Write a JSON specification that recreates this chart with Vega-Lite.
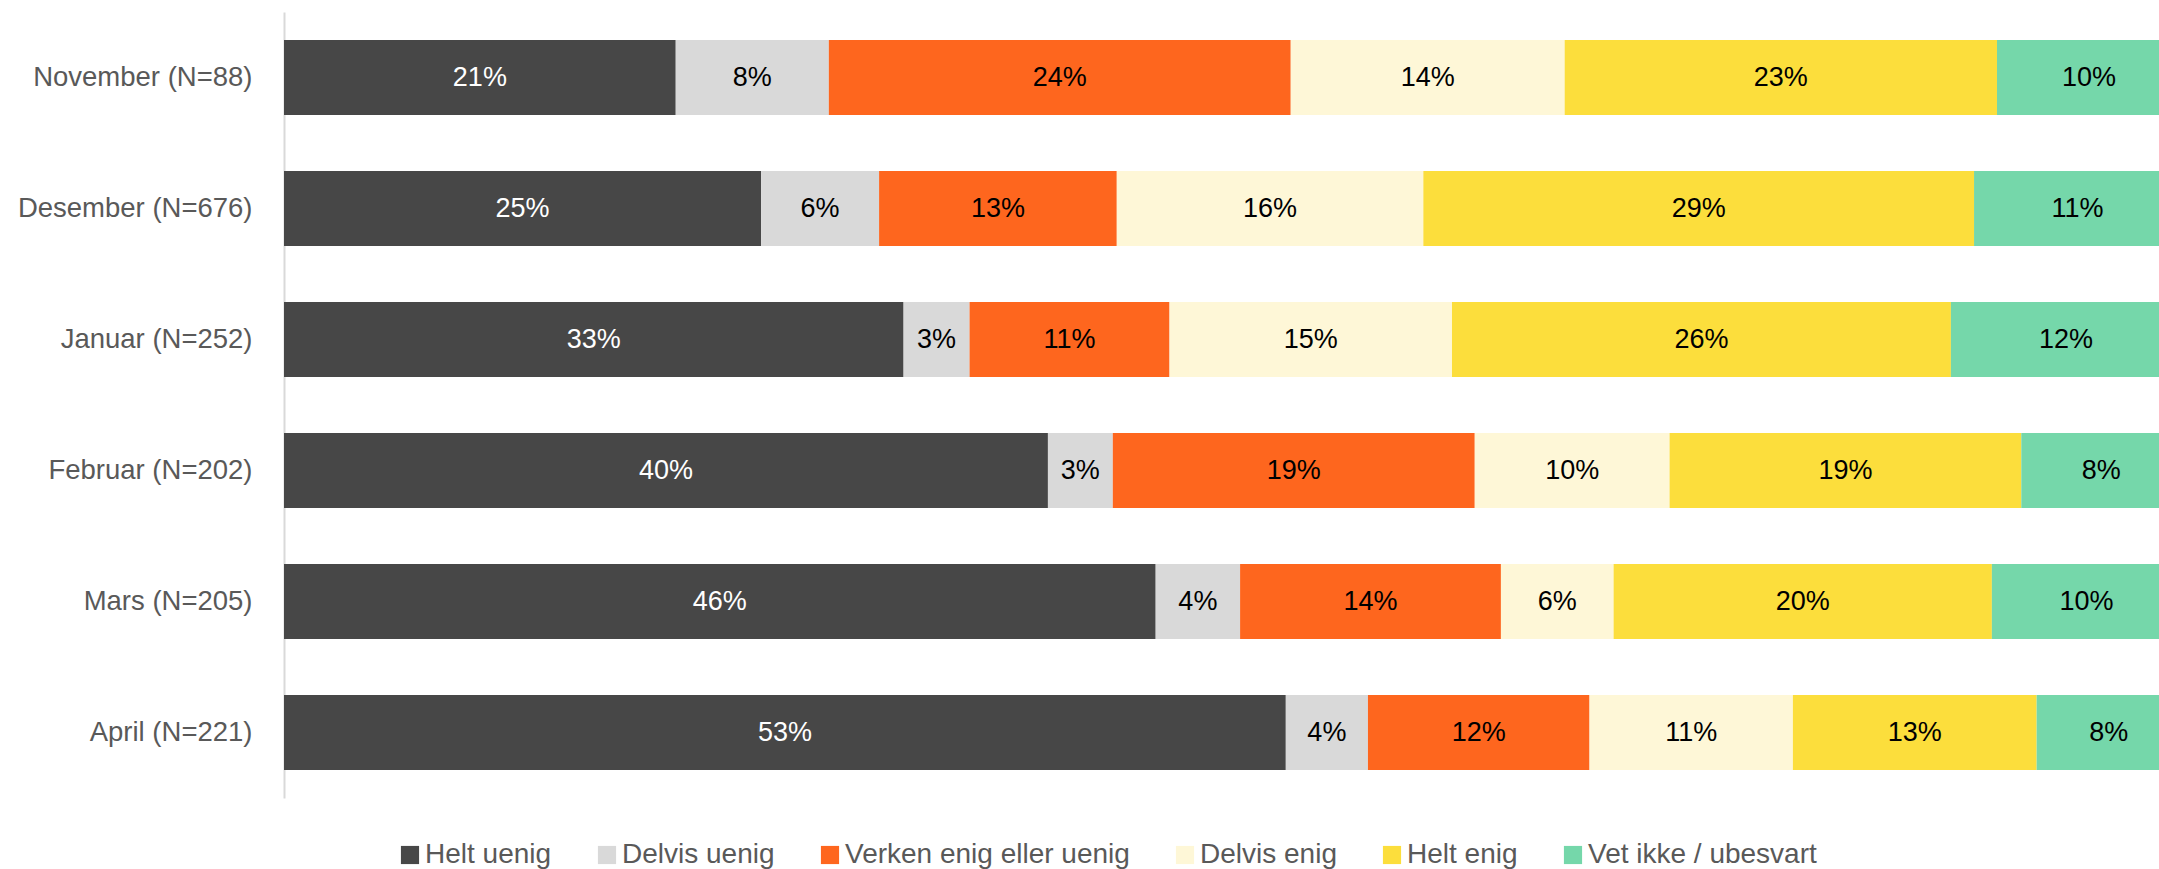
{
  "$schema": "https://vega.github.io/schema/vega-lite/v6.json",
  "width": 1875,
  "height": 786,
  "autosize": "none",
  "padding": {"left": 284, "top": 12, "right": 0, "bottom": 71},
  "background": "white",
  "config": {
    "view": {"stroke": null},
    "font": "Liberation Sans",
    "legend": {
      "orient": "none",
      "legendX": 112,
      "legendY": 829,
      "direction": "horizontal",
      "symbolType": "square",
      "symbolSize": 330,
      "symbolStrokeWidth": 0,
      "labelFontSize": 28,
      "labelColor": "#595959",
      "labelFont": "Liberation Sans",
      "labelOffset": 1,
      "columnPadding": 41,
      "padding": 0,
      "labelLimit": 500
    }
  },
  "data": {
    "values": [
      {"month": "November (N=88)", "cat": "Helt uenig", "k": 1, "value": 0.2065},
      {"month": "November (N=88)", "cat": "Delvis uenig", "k": 2, "value": 0.0807},
      {"month": "November (N=88)", "cat": "Verken enig eller uenig", "k": 3, "value": 0.2435},
      {"month": "November (N=88)", "cat": "Delvis enig", "k": 4, "value": 0.1444},
      {"month": "November (N=88)", "cat": "Helt enig", "k": 5, "value": 0.2279},
      {"month": "November (N=88)", "cat": "Vet ikke / ubesvart", "k": 6, "value": 0.0970},
      {"month": "Desember (N=676)", "cat": "Helt uenig", "k": 1, "value": 0.2515},
      {"month": "Desember (N=676)", "cat": "Delvis uenig", "k": 2, "value": 0.0622},
      {"month": "Desember (N=676)", "cat": "Verken enig eller uenig", "k": 3, "value": 0.1253},
      {"month": "Desember (N=676)", "cat": "Delvis enig", "k": 4, "value": 0.1616},
      {"month": "Desember (N=676)", "cat": "Helt enig", "k": 5, "value": 0.2903},
      {"month": "Desember (N=676)", "cat": "Vet ikke / ubesvart", "k": 6, "value": 0.1091},
      {"month": "Januar (N=252)", "cat": "Helt uenig", "k": 1, "value": 0.3266},
      {"month": "Januar (N=252)", "cat": "Delvis uenig", "k": 2, "value": 0.0348},
      {"month": "Januar (N=252)", "cat": "Verken enig eller uenig", "k": 3, "value": 0.1054},
      {"month": "Januar (N=252)", "cat": "Delvis enig", "k": 4, "value": 0.1489},
      {"month": "Januar (N=252)", "cat": "Helt enig", "k": 5, "value": 0.2630},
      {"month": "Januar (N=252)", "cat": "Vet ikke / ubesvart", "k": 6, "value": 0.1213},
      {"month": "Februar (N=202)", "cat": "Helt uenig", "k": 1, "value": 0.4027},
      {"month": "Februar (N=202)", "cat": "Delvis uenig", "k": 2, "value": 0.0342},
      {"month": "Februar (N=202)", "cat": "Verken enig eller uenig", "k": 3, "value": 0.1908},
      {"month": "Februar (N=202)", "cat": "Delvis enig", "k": 4, "value": 0.1027},
      {"month": "Februar (N=202)", "cat": "Helt enig", "k": 5, "value": 0.1854},
      {"month": "Februar (N=202)", "cat": "Vet ikke / ubesvart", "k": 6, "value": 0.0842},
      {"month": "Mars (N=205)", "cat": "Helt uenig", "k": 1, "value": 0.4595},
      {"month": "Mars (N=205)", "cat": "Delvis uenig", "k": 2, "value": 0.0445},
      {"month": "Mars (N=205)", "cat": "Verken enig eller uenig", "k": 3, "value": 0.1375},
      {"month": "Mars (N=205)", "cat": "Delvis enig", "k": 4, "value": 0.0594},
      {"month": "Mars (N=205)", "cat": "Helt enig", "k": 5, "value": 0.1994},
      {"month": "Mars (N=205)", "cat": "Vet ikke / ubesvart", "k": 6, "value": 0.0997},
      {"month": "April (N=221)", "cat": "Helt uenig", "k": 1, "value": 0.5281},
      {"month": "April (N=221)", "cat": "Delvis uenig", "k": 2, "value": 0.0433},
      {"month": "April (N=221)", "cat": "Verken enig eller uenig", "k": 3, "value": 0.1168},
      {"month": "April (N=221)", "cat": "Delvis enig", "k": 4, "value": 0.1072},
      {"month": "April (N=221)", "cat": "Helt enig", "k": 5, "value": 0.1285},
      {"month": "April (N=221)", "cat": "Vet ikke / ubesvart", "k": 6, "value": 0.0761}
    ]
  },
  "encoding": {
    "y": {
      "field": "month",
      "type": "nominal",
      "sort": ["November (N=88)", "Desember (N=676)", "Januar (N=252)", "Februar (N=202)", "Mars (N=205)", "April (N=221)"],
      "title": null,
      "scale": {"paddingInner": 0.427, "paddingOuter": 0.2135},
      "axis": {
        "domainColor": "#d9d9d9",
        "domainWidth": 2,
        "ticks": false,
        "tickSize": 0,
        "grid": false,
        "labelFontSize": 27.5,
        "labelColor": "#595959",
        "labelFont": "Liberation Sans",
        "labelPadding": 32,
        "labelLimit": 400
      }
    }
  },
  "layer": [
    {
      "mark": {"type": "bar", "clip": true},
      "encoding": {
        "x": {
          "field": "value",
          "type": "quantitative",
          "stack": "zero",
          "scale": {"domain": [0, 0.9884], "nice": false, "zero": true},
          "axis": null
        },
        "color": {
          "field": "cat",
          "type": "nominal",
          "title": null,
          "scale": {
            "domain": ["Helt uenig", "Delvis uenig", "Verken enig eller uenig", "Delvis enig", "Helt enig", "Vet ikke / ubesvart"],
            "range": ["#474747", "#d9d9d9", "#fe661e", "#fef7d7", "#fcde3c", "#75d7aa"]
          }
        },
        "order": {"field": "k"}
      }
    },
    {
      "mark": {"type": "text", "fontSize": 27, "font": "Liberation Sans", "align": "center", "baseline": "middle"},
      "encoding": {
        "x": {"field": "value", "type": "quantitative", "stack": "zero", "bandPosition": 0.5},
        "detail": {"field": "cat"},
        "order": {"field": "k"},
        "text": {"field": "value", "type": "quantitative", "format": ".0%"},
        "fill": {"condition": {"test": "datum.k === 1", "value": "#ffffff"}, "value": "#000000"}
      }
    }
  ]
}
